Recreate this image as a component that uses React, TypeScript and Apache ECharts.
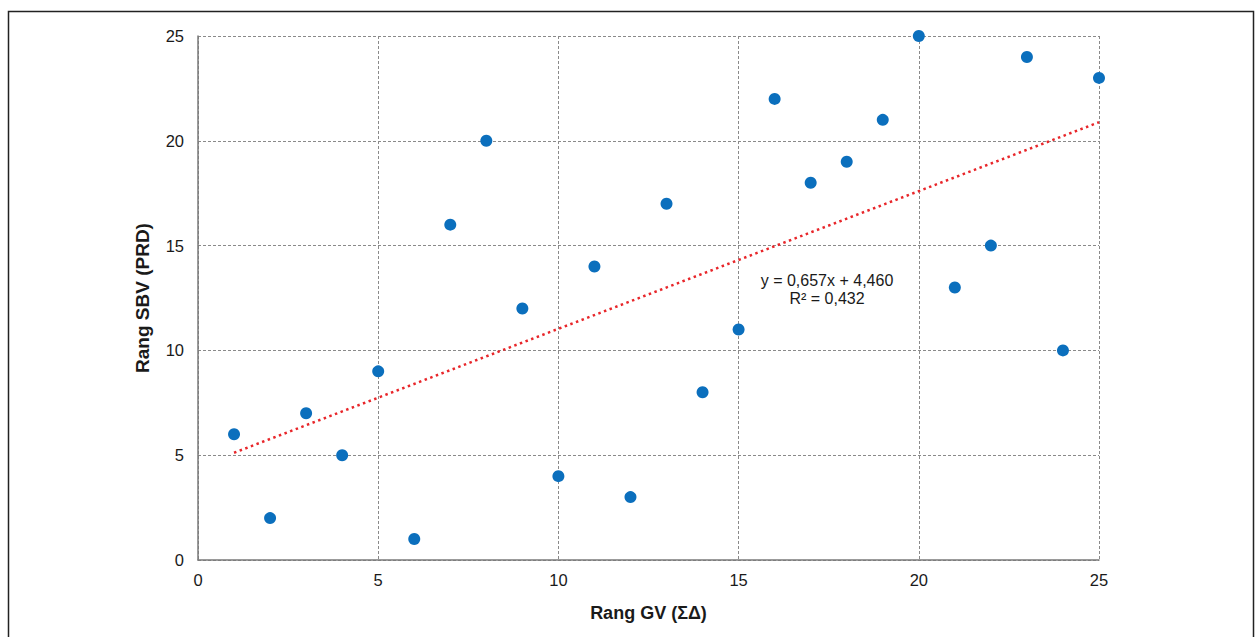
import React, { useEffect, useRef } from "react";
import * as echarts from "echarts";

// Rank pairs: GV (ΣΔ) rank vs. SBV (PRD) rank
const rangGV = [1, 2, 3, 4, 5, 6, 7, 8, 9, 10, 11, 12, 13, 14, 15, 16, 17, 18, 19, 20, 21, 22, 23, 24, 25];
const rangSBV = [6, 2, 7, 5, 9, 1, 16, 20, 12, 4, 14, 3, 17, 8, 11, 22, 18, 19, 21, 25, 13, 15, 24, 10, 23];

// Linear trend: y = slope * x + intercept
const trendSlope = 0.657;
const trendIntercept = 4.46;
const rSquared = 0.432;
const trendRange = [1, 25];

const xTicks = [0, 5, 10, 15, 20, 25];
const yTicks = [0, 5, 10, 15, 20, 25];

const fmt = (v: number) => v.toFixed(3).replace(".", ",");

export default function App() {
  const ref = useRef<HTMLDivElement>(null);

  useEffect(() => {
    if (!ref.current) return;
    const chart = echarts.init(ref.current, undefined, { renderer: "svg" });
    const font = "Liberation Sans, Arial, sans-serif";
    const points = rangGV.map((x, i) => [x, rangSBV[i]]);
    const trend = trendRange.map((x) => [x, trendSlope * x + trendIntercept]);

    chart.setOption({
      animation: false,
      backgroundColor: "#ffffff",
      textStyle: { fontFamily: font },
      grid: { left: 198, right: 156, top: 36, bottom: 77 },
      xAxis: {
        type: "value",
        min: xTicks[0],
        max: xTicks[xTicks.length - 1],
        interval: 5,
        name: "Rang GV (ΣΔ)",
        nameLocation: "middle",
        nameGap: 44,
        nameTextStyle: { fontSize: 18, fontWeight: "bold", color: "#1a1a1a", fontFamily: font },
        axisLine: { show: true, lineStyle: { color: "#7a7a7a", width: 1.5 } },
        axisTick: { show: false },
        axisLabel: { fontSize: 16.5, color: "#1a1a1a", margin: 11, fontFamily: font },
        splitLine: { show: true, lineStyle: { color: "#8a8a8a", type: [3, 2], width: 1 } },
      },
      yAxis: {
        type: "value",
        min: yTicks[0],
        max: yTicks[yTicks.length - 1],
        interval: 5,
        name: "Rang SBV (PRD)",
        nameLocation: "middle",
        nameGap: 46,
        nameRotate: 90,
        nameTextStyle: { fontSize: 19, fontWeight: "bold", color: "#1a1a1a", fontFamily: font },
        axisLine: { show: true, lineStyle: { color: "#7a7a7a", width: 1.5 } },
        axisTick: { show: false },
        axisLabel: { fontSize: 16.5, color: "#1a1a1a", margin: 14, fontFamily: font },
        splitLine: { show: true, lineStyle: { color: "#8a8a8a", type: [3, 2], width: 1 } },
      },
      graphic: [
        {
          type: "rect",
          shape: { x: 8.5, y: 11.5, width: 1245, height: 640 },
          style: { fill: "none", stroke: "#222", lineWidth: 1.5 },
          silent: true,
          z: 100,
        },
        {
          type: "text",
          x: 827,
          y: 289,
          style: {
            text: `y = ${fmt(trendSlope)}x + ${fmt(trendIntercept)}\nR² = ${fmt(rSquared)}`,
            fontSize: 16,
            fontFamily: font,
            fill: "#1a1a1a",
            align: "center",
            verticalAlign: "middle",
            lineHeight: 18,
          },
          z: 50,
        },
      ],
      series: [
        {
          type: "line",
          data: trend,
          showSymbol: false,
          symbol: "none",
          lineStyle: { color: "#e8262a", width: 2.5, type: [2.5, 3.5] },
          z: 3,
          silent: true,
        },
        {
          type: "scatter",
          data: points,
          symbol: "circle",
          symbolSize: 12,
          itemStyle: { color: "#0b6fbd", opacity: 1 },
          z: 4,
        },
      ],
    });

    return () => chart.dispose();
  }, []);

  return (
    <div
      ref={ref}
      style={{ position: "fixed", left: 0, top: 0, width: 1255, height: 637, background: "#fff" }}
    />
  );
}
